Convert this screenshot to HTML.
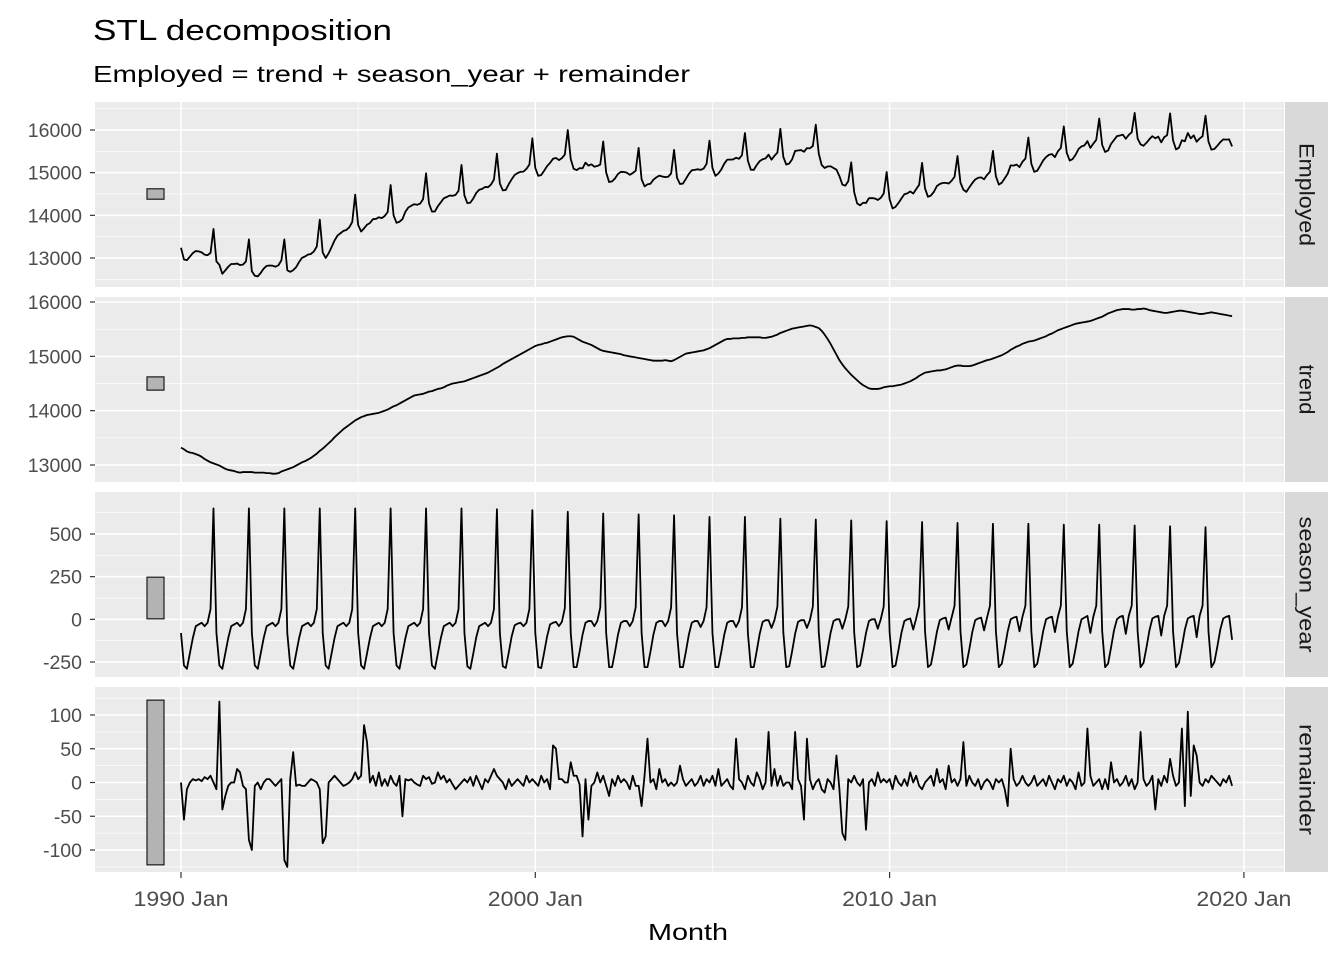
<!DOCTYPE html>
<html><head><meta charset="utf-8"><style>
body{margin:0;background:#fff;font-family:"Liberation Sans",Arial,sans-serif}
svg text{font-family:"Liberation Sans",Arial,sans-serif}
</style></head><body>
<svg id="chart" width="1344" height="960" xmlns="http://www.w3.org/2000/svg">
<text x="93" y="40" font-size="29" textLength="299" lengthAdjust="spacingAndGlyphs" fill="#000">STL decomposition</text>
<text x="93" y="82" font-size="23" textLength="597" lengthAdjust="spacingAndGlyphs" fill="#000">Employed = trend + season_year + remainder</text>
<text x="648" y="940" font-size="23" textLength="80" lengthAdjust="spacingAndGlyphs" fill="#000">Month</text>
</svg>
<script>
const trend=[
13320,13290,13250,13230,13220,13200,13180,13150,13110,13080,13050,13030,
13010,12990,12960,12930,12910,12900,12890,12870,12860,12870,12870,12870,
12870,12860,12860,12860,12860,12850,12850,12840,12840,12850,12880,12900,
12920,12940,12960,12990,13020,13050,13070,13100,13130,13170,13210,13260,
13300,13350,13400,13450,13510,13560,13610,13660,13700,13740,13780,13820,
13850,13880,13900,13920,13930,13940,13950,13960,13980,14000,14020,14050,
14080,14100,14130,14160,14190,14220,14250,14280,14290,14300,14310,14330,
14350,14360,14380,14400,14410,14430,14460,14480,14500,14510,14520,14530,
14540,14560,14580,14600,14620,14640,14660,14680,14700,14730,14760,14790,
14820,14860,14890,14920,14950,14980,15010,15040,15070,15100,15130,15160,
15190,15210,15220,15240,15250,15270,15290,15310,15330,15350,15360,15370,
15370,15360,15330,15300,15270,15250,15230,15210,15180,15150,15120,15100,
15090,15080,15070,15060,15050,15040,15020,15010,15000,14990,14980,14970,
14960,14950,14940,14930,14920,14920,14920,14920,14930,14920,14910,14930,
14960,14990,15020,15050,15060,15070,15080,15090,15100,15110,15130,15150,
15180,15210,15240,15270,15300,15320,15320,15330,15330,15330,15340,15340,
15350,15350,15350,15350,15350,15340,15340,15350,15360,15380,15400,15430,
15450,15470,15490,15510,15520,15530,15540,15550,15560,15570,15560,15540,
15520,15470,15400,15320,15230,15130,15030,14930,14850,14780,14720,14660,
14610,14560,14510,14470,14440,14410,14400,14400,14400,14410,14430,14440,
14450,14450,14460,14470,14480,14500,14520,14540,14570,14600,14640,14670,
14700,14710,14720,14730,14740,14740,14750,14760,14780,14800,14820,14830,
14830,14820,14820,14820,14830,14850,14870,14890,14910,14930,14940,14960,
14980,15000,15020,15050,15080,15120,15150,15180,15200,15230,15250,15270,
15280,15290,15310,15330,15350,15370,15400,15420,15450,15480,15500,15520,
15540,15560,15580,15600,15610,15620,15630,15640,15650,15670,15690,15710,
15730,15760,15790,15810,15830,15850,15860,15870,15870,15870,15860,15860,
15870,15870,15880,15870,15850,15840,15830,15820,15810,15800,15800,15810,
15820,15830,15840,15840,15830,15820,15810,15800,15790,15780,15780,15790,
15800,15810,15800,15790,15780,15770,15760,15750,15740];
const season=[
-80,-270,-290,-200,-110,-40,-30,-20,-40,-20,60,650,
-80,-270,-290,-200,-110,-40,-30,-20,-40,-20,60,650,
-80,-270,-290,-200,-110,-40,-30,-20,-40,-20,60,650,
-80,-270,-290,-200,-110,-40,-30,-20,-40,-20,60,650,
-80,-270,-290,-200,-110,-40,-30,-20,-40,-20,60,650,
-80,-270,-290,-200,-110,-40,-30,-20,-40,-20,60,650,
-80,-270,-290,-200,-110,-40,-30,-20,-40,-20,60,650,
-80,-270,-290,-200,-110,-40,-30,-20,-40,-20,60,650,
-80,-275,-290,-200,-105,-40,-30,-20,-40,-20,60,645,
-80,-275,-285,-195,-100,-35,-25,-20,-40,-20,60,640,
-80,-280,-285,-195,-100,-30,-20,-15,-40,-15,65,630,
-80,-280,-280,-190,-90,-20,-10,-10,-40,-10,70,620,
-80,-280,-280,-190,-90,-20,-10,-10,-40,-10,70,615,
-80,-280,-280,-190,-90,-20,-10,-10,-40,-10,70,610,
-80,-280,-280,-190,-90,-20,-10,-10,-45,-10,70,600,
-80,-280,-280,-190,-90,-20,-10,-10,-45,-10,70,600,
-80,-280,-280,-185,-85,-15,-5,-5,-50,-5,75,590,
-75,-280,-275,-185,-85,-15,-5,-5,-50,-5,75,585,
-75,-280,-275,-180,-80,-10,0,0,-55,0,75,580,
-75,-280,-270,-180,-80,-10,0,0,-55,0,75,575,
-75,-280,-270,-180,-80,-10,0,5,-60,5,80,570,
-70,-280,-265,-175,-75,-5,5,10,-60,10,80,565,
-70,-280,-265,-175,-75,-5,5,10,-65,10,80,560,
-70,-280,-260,-170,-70,0,10,15,-70,15,80,560,
-70,-280,-260,-170,-70,0,10,15,-75,15,80,555,
-70,-280,-260,-170,-70,0,10,20,-80,15,80,555,
-70,-280,-260,-165,-65,0,15,20,-85,20,80,550,
-70,-280,-255,-165,-65,5,15,20,-95,20,80,545,
-70,-280,-255,-160,-60,5,15,20,-105,20,80,540,
-70,-280,-250,-160,-60,5,15,20,-120];
const remainder=[
0,-55,-10,0,5,3,5,2,8,5,10,0,
-10,120,-40,-20,-5,0,0,20,15,-5,-10,-85,
-100,-5,0,-10,0,5,5,0,-5,0,5,-115,
-125,5,45,-5,-3,-5,-5,0,5,3,0,-10,
-90,-80,0,5,10,5,0,-5,-3,0,5,15,
5,10,85,60,0,10,-5,15,-5,5,-5,10,
0,-5,10,-50,5,3,5,0,-3,-5,10,5,
8,-2,0,15,5,10,0,5,-3,-10,-5,0,
5,0,8,-5,10,0,-10,5,0,10,20,10,
5,0,-10,5,-5,0,5,0,-5,10,0,5,
0,-5,10,0,5,-10,55,50,5,5,0,0,
30,10,10,-3,-80,5,-55,-5,0,15,0,10,
-5,-20,5,-5,10,0,5,0,-10,10,-5,-5,
-35,10,65,0,5,-10,20,0,5,-5,0,-5,
0,25,5,-5,0,5,-5,0,10,-5,5,0,
10,-5,20,-5,0,5,-5,-10,65,5,0,-10,
10,0,-5,15,5,-10,0,75,-5,20,-5,10,
-5,0,0,-10,75,5,-5,-55,65,5,-10,0,
5,-10,-15,5,0,-10,40,-10,-75,-85,5,0,
10,0,-5,5,-70,0,5,-5,15,0,5,0,
5,-10,10,0,-5,5,-5,15,0,10,-5,-10,
0,5,10,-5,20,0,5,-10,25,0,5,-5,
5,60,-5,10,0,-5,5,-10,0,5,0,-10,
5,0,5,-10,-35,50,5,-5,0,10,0,-5,
0,10,-5,0,5,-5,10,0,-10,5,0,10,
-5,5,0,-10,15,-5,0,80,10,-5,0,5,
-10,5,-10,30,0,5,-5,0,10,-5,5,-10,
0,75,5,-5,0,10,-40,5,-5,10,0,35,
10,-5,0,80,-35,105,-20,55,40,0,-5,5,
0,10,5,0,-5,5,0,10,-5];
const employed=trend.map((t,i)=>t+season[i]+remainder[i]);
const xTickYears=[1990,2000,2010,2020];
const xTickLabels=["1990 Jan","2000 Jan","2010 Jan","2020 Jan"];
const startYear=1990;

const svg=document.getElementById('chart');
const NS='http://www.w3.org/2000/svg';
function mk(tag,attrs,parent){const e=document.createElementNS(NS,tag);for(const k in attrs)e.setAttribute(k,attrs[k]);(parent||svg).appendChild(e);return e;}
const X0=95,X1=1284;
const xs=y=>181+(y-1990)*35.43;
const xm=i=>xs(startYear+i/12);
const panels=[
 {name:'Employed',len:103,data:employed,top:102,bot:287,v1:16000,p1:130,v2:13000,p2:258,ticks:[13000,14000,15000,16000],minor:[12500,13500,14500,15500,16500]},
 {name:'trend',len:50,data:trend,top:297,bot:482,v1:16000,p1:302,v2:13000,p2:465,ticks:[13000,14000,15000,16000],minor:[13500,14500,15500]},
 {name:'season_year',len:136,data:season,top:492,bot:677,v1:500,p1:534,v2:-250,p2:662,ticks:[-250,0,250,500],minor:[-125,125,375,625]},
 {name:'remainder',len:111,data:remainder,top:687,bot:872,v1:100,p1:715,v2:-100,p2:850,ticks:[-100,-50,0,50,100],minor:[-125,-75,-25,25,75,125]}
];
const barRange=244;
panels.forEach(p=>{
 const sc=(p.p2-p.p1)/(p.v2-p.v1);
 const y=v=>p.p1+(v-p.v1)*sc;
 const g=mk('g',{});
 
 
 const bg=mk('rect',{x:X0,y:p.top,width:X1-X0,height:p.bot-p.top,fill:'#ebebeb'},g);
 
 
 p.minor.forEach(v=>{const yy=y(v);if(yy>p.top&&yy<p.bot){const l=mk('line',{x1:X0,x2:X1,y1:yy,y2:yy,stroke:'#fff','stroke-width':0.7},g);}});
 [1995,2005,2015].forEach(yr=>{const l=mk('line',{x1:xs(yr),x2:xs(yr),y1:p.top,y2:p.bot,stroke:'#fff','stroke-width':0.7},g);});
 p.ticks.forEach(v=>{const yy=y(v);const l=mk('line',{x1:X0,x2:X1,y1:yy,y2:yy,stroke:'#fff','stroke-width':1.5},g);
  mk('line',{x1:X0-5,x2:X0,y1:yy,y2:yy,stroke:'#333','stroke-width':1.2},g);
  const t=mk('text',{x:82,y:yy+7,'font-size':19.5,'text-anchor':'end',fill:'#4d4d4d'},g);t.textContent=v;});
 xTickYears.forEach(yr=>{const l=mk('line',{x1:xs(yr),x2:xs(yr),y1:p.top,y2:p.bot,stroke:'#fff','stroke-width':1.5},g);});
 const mid=(p.v1+p.v2)/2;
 const b=mk('rect',{x:147,y:y(mid+barRange/2),width:17,height:barRange*Math.abs(sc),fill:'#b3b3b3',stroke:'#1a1a1a','stroke-width':1.2},g);
 
 
 const d=p.data.map((v,i)=>(i?'L':'M')+xm(i).toFixed(2)+','+y(v).toFixed(2)).join('');
 const ln=mk('path',{d:d,fill:'none',stroke:'#000','stroke-width':1.8,'stroke-linejoin':'round'},g);
 
 
 const s=mk('rect',{x:1285,y:p.top,width:43,height:p.bot-p.top,fill:'#d9d9d9'},g);
 
 
 const cy=(p.top+p.bot)/2;
 const st=mk('text',{x:1306,y:cy,'font-size':21,'text-anchor':'middle',fill:'#1a1a1a',textLength:p.len,lengthAdjust:'spacingAndGlyphs',transform:'rotate(90 1306 '+cy+')','dominant-baseline':'central'},g);
 st.textContent=p.name;
 
 
});
xTickYears.forEach((yr,i)=>{
 mk('line',{x1:xs(yr),x2:xs(yr),y1:872,y2:878,stroke:'#333','stroke-width':1.2});
 const t=mk('text',{x:xs(yr),y:906,'font-size':21,'text-anchor':'middle',textLength:95,lengthAdjust:'spacingAndGlyphs',fill:'#4d4d4d'});
 t.textContent=xTickLabels[i];
 
 
});
</script>
</body></html>
